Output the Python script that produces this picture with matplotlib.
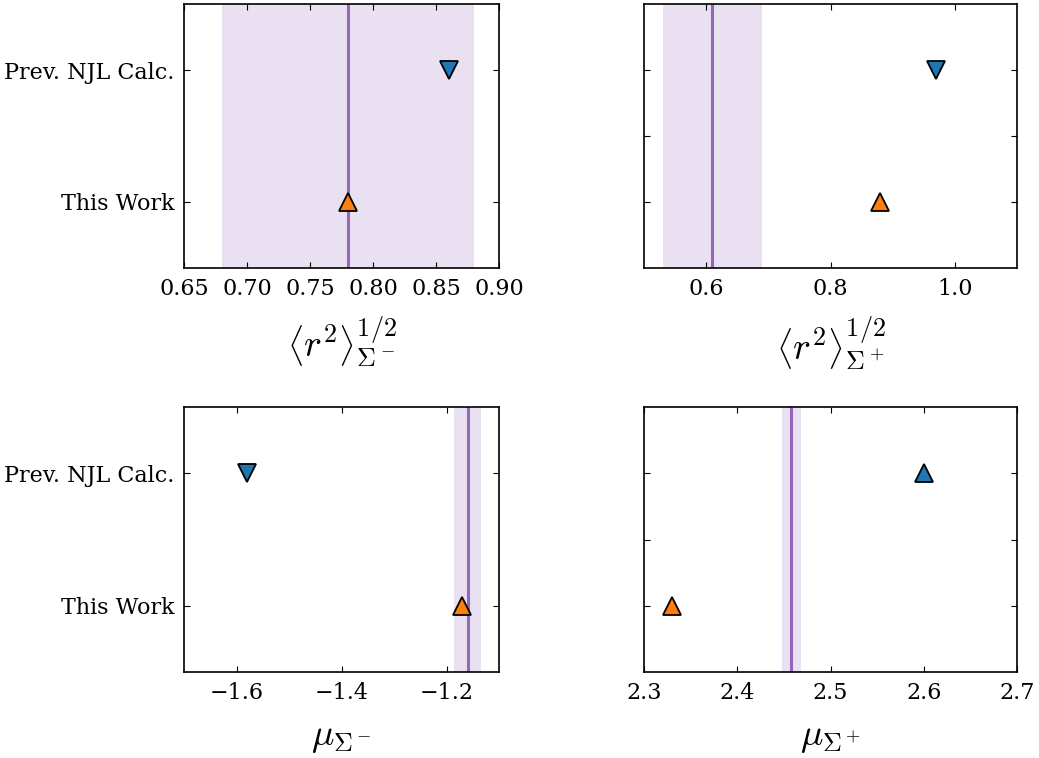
import numpy as np
import matplotlib
matplotlib.use("Agg")
import matplotlib.pyplot as plt

plt.rcParams['font.family'] = 'DejaVu Serif'
plt.rcParams['mathtext.fontset'] = 'cm'
plt.rcParams['xtick.direction'] = 'in'
plt.rcParams['ytick.direction'] = 'in'
plt.rcParams['xtick.top'] = True
plt.rcParams['ytick.right'] = True
plt.rcParams['xtick.major.size'] = 4.5
plt.rcParams['ytick.major.size'] = 4.5

row_labels = ["This Work", "Prev. NJL Calc."]
row_pos = [0, 1]

# (this work, previous NJL calc.), experiment value and error
titles = [r"$\left\langle r^{2}_{\ } \right\rangle^{1/2}_{\Sigma^-}$",
          r"$\left\langle r^{2}_{\ } \right\rangle^{1/2}_{\Sigma^+}$",
          r"$\mu_{\Sigma^-}$",
          r"$\mu_{\Sigma^+}$"]
this_work = [0.78, 0.88, -1.17, 2.33]
prev_njl = [0.86, 0.97, -1.58, 2.60]
prev_marker = ['v', 'v', 'v', '^']
exp_val = [0.78, 0.61, -1.160, 2.458]
exp_err = [0.10, 0.08, 0.025, 0.010]
xlims = [(0.65, 0.90), (0.5, 1.1), (-1.7, -1.1), (2.3, 2.7)]
xticks = [[0.65, 0.70, 0.75, 0.80, 0.85, 0.90], [0.6, 0.8, 1.0],
          [-1.6, -1.4, -1.2], [2.3, 2.4, 2.5, 2.6, 2.7]]

fig = plt.figure(figsize=(10.39, 7.58), dpi=100)
W, H = 1039, 758
rects = [(184, 4, 315, 264), (644, 4, 373, 264),
         (184, 407, 315, 265), (644, 407, 373, 265)]

for i in range(4):
    x0, y0, w, h = rects[i]
    ax = fig.add_axes([x0 / W, 1 - (y0 + h) / H, w / W, h / H])
    ax.axvspan(exp_val[i] - exp_err[i], exp_val[i] + exp_err[i],
               color='#9467bd', alpha=0.2, lw=0)
    ax.axvline(exp_val[i], color='#9467bd', lw=2.2)
    ax.plot(this_work[i], row_pos[0], '^', color='#ff7f0e', ms=13,
            mec='k', mew=1.3)
    ax.plot(prev_njl[i], row_pos[1], prev_marker[i], color='#1f77b4', ms=13,
            mec='k', mew=1.3)
    ax.set_xlim(xlims[i])
    ax.set_xticks(xticks[i])
    ax.set_ylim(-0.5, 1.5)
    if i % 2 == 0:
        ax.set_yticks(row_pos)
        ax.set_yticklabels(row_labels)
    else:
        ax.set_yticks([0, 0.5, 1])
        ax.set_yticklabels([])
    ax.tick_params(labelsize=16, pad=7)
    ax.set_xlabel(titles[i], fontsize=27, labelpad=11)
    for s in ax.spines.values():
        s.set_linewidth(1.2)

fig.savefig("out.png", dpi=100, facecolor='white')
